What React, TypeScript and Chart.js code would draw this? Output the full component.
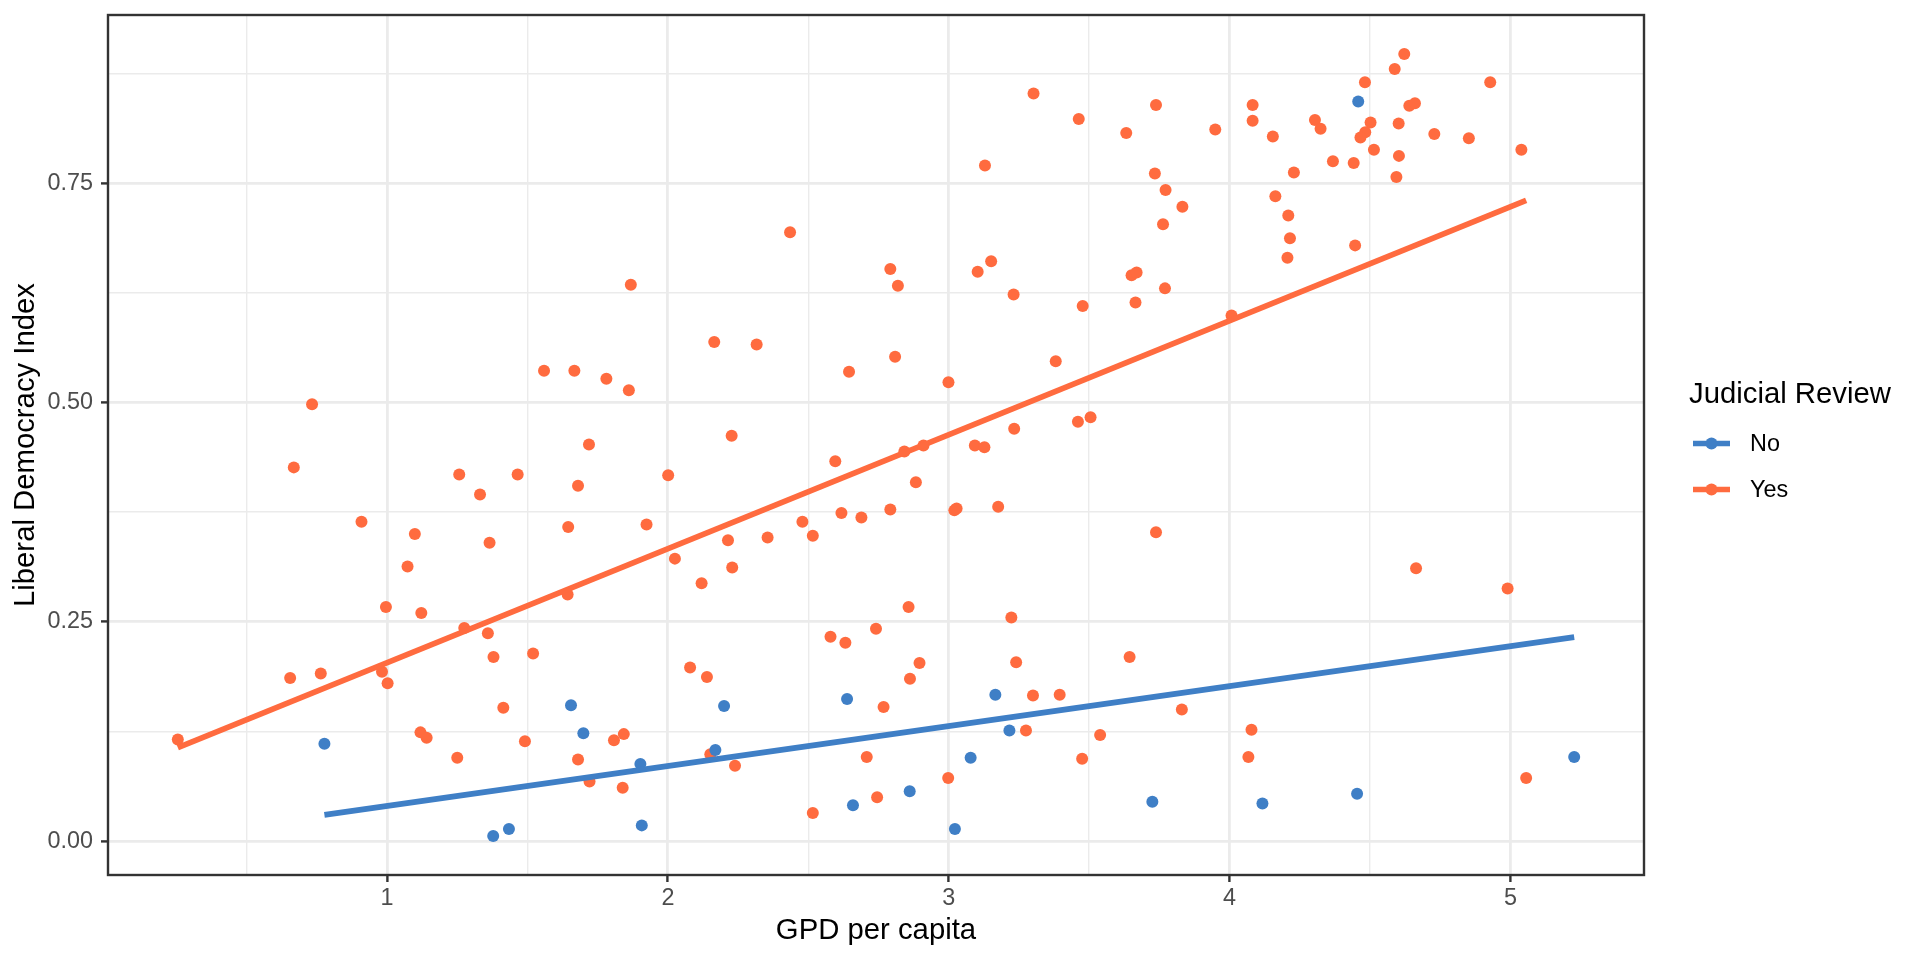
import { useEffect, useRef } from "react";
import { Chart, registerables } from "chart.js";

Chart.register(...registerables);

// Judicial Review = "No"
const noGdp = [
  0.777, 1.378, 1.434, 1.655, 1.699, 1.902, 1.907, 2.169, 2.2, 2.638, 2.659,
  2.861, 3.022, 3.078, 3.166, 3.216, 3.725, 4.117, 4.454, 4.458, 5.227,
];
const noLdi = [
  0.111, 0.006, 0.014, 0.155, 0.123, 0.088, 0.018, 0.104, 0.154, 0.162, 0.041,
  0.057, 0.014, 0.095, 0.167, 0.126, 0.045, 0.043, 0.054, 0.843, 0.096,
];

// Judicial Review = "Yes"
const yesGdp = [
  0.255, 0.668, 1.257, 1.331, 0.909, 1.099, 1.365, 1.073, 0.996, 1.122,
  1.275, 1.359, 1.379, 0.655, 0.764, 0.982, 1.002, 1.414, 0.733,
  2.435, 1.868, 2.792, 2.819, 2.165, 2.316, 1.559, 1.667, 1.781, 1.861,
  2.645, 2.809, 1.719, 2.227,
  1.465, 1.68, 2.001, 2.596, 2.842, 2.883, 1.645, 1.924, 2.214, 2.355,
  2.479, 2.516, 2.618, 2.689, 2.792, 2.025, 2.229, 2.12, 1.643, 2.857,
  2.741, 2.579, 2.632, 1.52, 2.079, 2.139, 2.896, 2.862, 2.768,
  3.302, 3.463, 3.632, 3.738, 3.949, 4.082, 4.082, 4.154, 4.304, 4.324,
  4.368, 4.229, 3.129, 3.734, 3.772, 3.832, 3.763, 4.163, 4.209, 4.215,
  4.206, 3.151, 3.103, 3.231, 3.651, 3.669, 3.77, 3.665, 3.477,
  4.007, 2.999, 3.381, 2.91, 3.093, 3.127, 3.233, 3.46, 3.505, 3.02,
  3.028, 3.176, 3.738, 3.223, 3.24, 3.644, 3.3, 3.395, 3.83,
  4.622, 4.588, 4.482, 4.928, 4.64, 4.66, 4.502, 4.602, 4.483, 4.466,
  4.729, 4.852, 4.514, 5.039, 4.603, 4.442, 4.594, 4.447, 4.664, 4.99, 5.056,
  1.119, 1.141, 1.25, 1.491, 1.808, 1.843, 1.68, 1.721, 1.839, 2.151, 2.239,
  2.708, 2.516, 2.745, 2.998, 3.275, 3.539, 3.475, 4.078, 4.067,
];
const yesLdi = [
  0.116, 0.426, 0.418, 0.395, 0.364, 0.35, 0.34, 0.313, 0.267, 0.26,
  0.243, 0.237, 0.21, 0.186, 0.191, 0.193, 0.18, 0.152, 0.498,
  0.694, 0.634, 0.652, 0.633, 0.569, 0.566, 0.536, 0.536, 0.527, 0.514,
  0.535, 0.552, 0.452, 0.462,
  0.418, 0.405, 0.417, 0.433, 0.444, 0.409, 0.358, 0.361, 0.343, 0.346,
  0.364, 0.348, 0.374, 0.369, 0.378, 0.322, 0.312, 0.294, 0.281, 0.267,
  0.242, 0.233, 0.226, 0.214, 0.198, 0.187, 0.203, 0.185, 0.153,
  0.852, 0.823, 0.807, 0.839, 0.811, 0.839, 0.821, 0.803, 0.822, 0.812,
  0.775, 0.762, 0.77, 0.761, 0.742, 0.723, 0.703, 0.735, 0.713, 0.687,
  0.665, 0.661, 0.649, 0.623, 0.645, 0.648, 0.63, 0.614, 0.61,
  0.599, 0.523, 0.547, 0.451, 0.451, 0.449, 0.47, 0.478, 0.483, 0.377,
  0.379, 0.381, 0.352, 0.255, 0.204, 0.21, 0.166, 0.167, 0.15,
  0.897, 0.88, 0.865, 0.865, 0.838, 0.841, 0.819, 0.818, 0.808, 0.802,
  0.806, 0.801, 0.788, 0.788, 0.781, 0.773, 0.757, 0.679, 0.311, 0.288, 0.072,
  0.124, 0.118, 0.095, 0.114, 0.115, 0.122, 0.093, 0.068, 0.061, 0.099, 0.086,
  0.096, 0.032, 0.05, 0.072, 0.126, 0.121, 0.094, 0.127, 0.096,
];

const groups = ["No", "Yes"];
const xTicks = [0.5, 1, 1.5, 2, 2.5, 3, 3.5, 4, 4.5, 5];
const yTicks = [0, 0.125, 0.25, 0.375, 0.5, 0.625, 0.75, 0.875];

const BLUE = "#3F7FC6";
const ORANGE = "#FF6B3F";
const FONT = "'Liberation Sans', Arial, Helvetica, sans-serif";

const toPoints = (xs: number[], ys: number[]) => xs.map((x, i) => ({ x, y: ys[i] }));

// least squares line across the group's x range (like geom_smooth(method = "lm"))
function lmLine(xs: number[], ys: number[]) {
  const n = xs.length;
  const mx = xs.reduce((a, b) => a + b, 0) / n;
  const my = ys.reduce((a, b) => a + b, 0) / n;
  let sxy = 0;
  let sxx = 0;
  for (let i = 0; i < n; i++) {
    sxy += (xs[i] - mx) * (ys[i] - my);
    sxx += (xs[i] - mx) * (xs[i] - mx);
  }
  const b = sxy / sxx;
  const a = my - b * mx;
  const lo = Math.min(...xs);
  const hi = Math.max(...xs);
  return [
    { x: lo, y: a + b * lo },
    { x: hi, y: a + b * hi },
  ];
}

function expand(values: number[]) {
  const lo = Math.min(...values);
  const hi = Math.max(...values);
  const pad = (hi - lo) * 0.05;
  return [lo - pad, hi + pad];
}

const [xMin, xMax] = expand([...noGdp, ...yesGdp]);
const [yMin, yMax] = expand([...noLdi, ...yesLdi]);

const isMinorX = (v: number) => Math.abs(v - Math.round(v)) > 1e-6;
const isMinorY = (v: number) => Math.abs(v * 4 - Math.round(v * 4)) > 1e-6;

const ggFrame = {
  id: "ggFrame",
  afterDraw(chart: any) {
    const ctx = chart.ctx;
    const a = chart.chartArea;
    ctx.save();
    ctx.strokeStyle = "#333333";
    ctx.lineWidth = 2.4;
    ctx.strokeRect(a.left, a.top, a.right - a.left, a.bottom - a.top);

    // legend
    ctx.fillStyle = "#000000";
    ctx.font = `29.3px ${FONT}`;
    ctx.textBaseline = "alphabetic";
    ctx.textAlign = "left";
    ctx.fillText("Judicial Review", 1689, 403);

    const colors = [BLUE, ORANGE];
    groups.forEach((g, i) => {
      const y = 443.5 + i * 46;
      ctx.strokeStyle = colors[i];
      ctx.lineWidth = 5.7;
      ctx.lineCap = "butt";
      ctx.beginPath();
      ctx.moveTo(1693, y);
      ctx.lineTo(1730, y);
      ctx.stroke();
      ctx.fillStyle = colors[i];
      ctx.beginPath();
      ctx.arc(1711.5, y, 6, 0, Math.PI * 2);
      ctx.fill();
      ctx.fillStyle = "#000000";
      ctx.font = `23.4px ${FONT}`;
      ctx.textBaseline = "middle";
      ctx.fillText(g, 1750, y + 1);
    });
    ctx.restore();
  },
};

export default function App() {
  const chartRef = useRef<HTMLCanvasElement>(null);
  const chartInstanceRef = useRef<Chart | null>(null);

  useEffect(() => {
    if (!chartRef.current) return;
    const ctx = chartRef.current.getContext("2d");
    if (!ctx) return;
    if (chartInstanceRef.current) chartInstanceRef.current.destroy();

    const gridColor = "#EBEBEB";

    chartInstanceRef.current = new Chart(ctx, {
      type: "scatter",
      data: {
        datasets: [
          {
            label: "No fit",
            data: lmLine(noGdp, noLdi),
            showLine: true,
            borderColor: BLUE,
            borderWidth: 5.7,
            borderCapStyle: "butt",
            pointRadius: 0,
            order: 0,
          },
          {
            label: "Yes fit",
            data: lmLine(yesGdp, yesLdi),
            showLine: true,
            borderColor: ORANGE,
            borderWidth: 5.7,
            borderCapStyle: "butt",
            pointRadius: 0,
            order: 0,
          },
          {
            label: groups[0],
            data: toPoints(noGdp, noLdi),
            backgroundColor: BLUE,
            borderWidth: 0,
            pointRadius: 6,
            order: 1,
          },
          {
            label: groups[1],
            data: toPoints(yesGdp, yesLdi),
            backgroundColor: ORANGE,
            borderWidth: 0,
            pointRadius: 6,
            order: 1,
          },
        ],
      },
      options: {
        responsive: false,
        animation: false,
        events: [],
        layout: { padding: { left: 8, right: 276, top: 15, bottom: 12 } },
        plugins: {
          legend: { display: false },
          tooltip: { enabled: false },
        },
        scales: {
          x: {
            type: "linear",
            min: xMin,
            max: xMax,
            afterBuildTicks: (s: any) => {
              s.ticks = xTicks.map((value) => ({ value }));
            },
            afterFit: (s: any) => {
              s.height = 73;
              s.paddingLeft = 0;
              s.paddingRight = 0;
            },
            border: { display: false },
            grid: {
              color: gridColor,
              lineWidth: (c: any) => (isMinorX(c.tick.value) ? 1.4 : 2.8),
              drawTicks: true,
              tickLength: 7,
              tickWidth: 2.4,
              tickColor: (c: any) => (isMinorX(c.tick.value) ? "rgba(0,0,0,0)" : "#333333"),
            },
            ticks: {
              autoSkip: false,
              maxRotation: 0,
              padding: 3,
              color: "#4D4D4D",
              font: { family: FONT, size: 23.4 },
              callback: (v: any) => (isMinorX(Number(v)) ? "" : String(v)),
            },
            title: {
              display: true,
              text: "GPD per capita",
              color: "#000000",
              font: { family: FONT, size: 29.3 },
              padding: 0,
            },
          },
          y: {
            type: "linear",
            min: yMin,
            max: yMax,
            afterBuildTicks: (s: any) => {
              s.ticks = yTicks.map((value) => ({ value }));
            },
            afterFit: (s: any) => {
              s.width = 100;
              s.paddingTop = 0;
              s.paddingBottom = 0;
            },
            border: { display: false },
            grid: {
              color: gridColor,
              lineWidth: (c: any) => (isMinorY(c.tick.value) ? 1.4 : 2.8),
              drawTicks: true,
              tickLength: 7,
              tickWidth: 2.4,
              tickColor: (c: any) => (isMinorY(c.tick.value) ? "rgba(0,0,0,0)" : "#333333"),
            },
            ticks: {
              autoSkip: false,
              padding: 8,
              color: "#4D4D4D",
              font: { family: FONT, size: 23.4 },
              callback: (v: any) => (isMinorY(Number(v)) ? "" : Number(v).toFixed(2)),
            },
            title: {
              display: true,
              text: "Liberal Democracy Index",
              color: "#000000",
              font: { family: FONT, size: 29.3 },
              padding: 0,
            },
          },
        },
      },
      plugins: [ggFrame],
    });

    return () => {
      if (chartInstanceRef.current) {
        chartInstanceRef.current.destroy();
        chartInstanceRef.current = null;
      }
    };
  }, []);

  return (
    <div style={{ position: "fixed", left: 0, top: 0, width: 1920, height: 960, background: "#ffffff" }}>
      <canvas ref={chartRef} width={1920} height={960} style={{ display: "block" }} />
    </div>
  );
}
